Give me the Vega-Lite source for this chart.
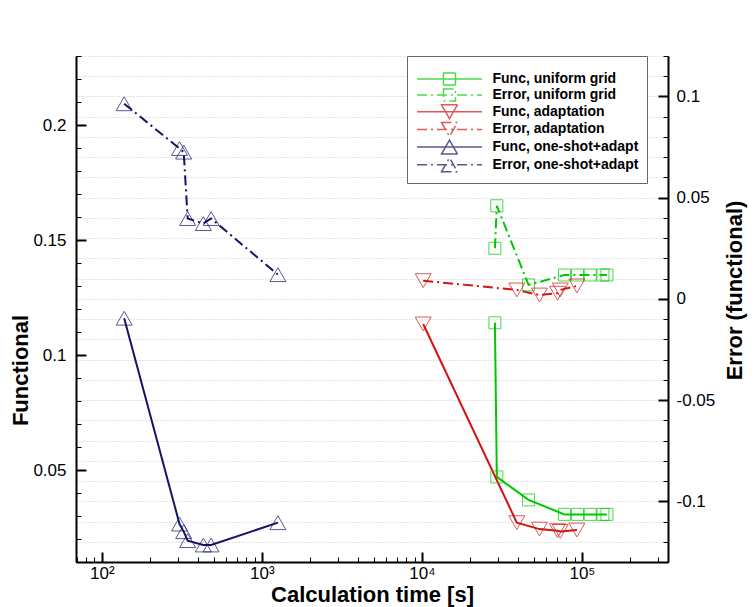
{
  "$schema": "https://vega.github.io/schema/vega-lite/v6.json",
  "width": 592,
  "height": 506,
  "autosize": {"type": "none"},
  "padding": {"left": 76, "top": 56, "right": 87, "bottom": 45},
  "background": "white",
  "config": {
    "view": {"stroke": null},
    "font": "Liberation Sans",
    "axis": {
      "domainColor": "black", "domainWidth": 2, "tickColor": "black",
      "labelColor": "black", "titleColor": "black",
      "labelFont": "Liberation Sans", "labelFontSize": 17,
      "titleFont": "Liberation Sans", "titleFontSize": 22, "titleFontWeight": "bold",
      "grid": false, "labelOverlap": false, "labelFlush": false
    },
    "legend": {
      "orient": "none", "legendX": 331, "legendY": 0,
      "strokeColor": "#666666", "fillColor": "white", "padding": 8,
      "symbolSize": 100, "symbolOffset": 27.5, "labelOffset": 36,
      "symbolStrokeWidth": 1.5,
      "labelFont": "Liberation Sans", "labelFontWeight": "bold", "labelFontSize": 14, "labelColor": "black",
      "labelLimit": 400, "rowPadding": -2.3,
      "titleFontSize": 4, "titlePadding": 4
    }
  },
  "data": {"values": [
    {"series": "Func, uniform grid", "kind": "Func", "t": 28600, "v": 0.114},
    {"series": "Func, uniform grid", "kind": "Func", "t": 29400, "v": 0.047},
    {"series": "Func, uniform grid", "kind": "Func", "t": 46400, "v": 0.037},
    {"series": "Func, uniform grid", "kind": "Func", "t": 77800, "v": 0.0307},
    {"series": "Func, uniform grid", "kind": "Func", "t": 93900, "v": 0.0307},
    {"series": "Func, uniform grid", "kind": "Func", "t": 112700, "v": 0.0307},
    {"series": "Func, uniform grid", "kind": "Func", "t": 135200, "v": 0.0307},
    {"series": "Func, uniform grid", "kind": "Func", "t": 143300, "v": 0.0307},
    {"series": "Error, uniform grid", "kind": "Error", "t": 28600, "v": 0.025},
    {"series": "Error, uniform grid", "kind": "Error", "t": 29400, "v": 0.046},
    {"series": "Error, uniform grid", "kind": "Error", "t": 46400, "v": 0.0069},
    {"series": "Error, uniform grid", "kind": "Error", "t": 77800, "v": 0.0118},
    {"series": "Error, uniform grid", "kind": "Error", "t": 93900, "v": 0.0118},
    {"series": "Error, uniform grid", "kind": "Error", "t": 112700, "v": 0.0118},
    {"series": "Error, uniform grid", "kind": "Error", "t": 135200, "v": 0.0118},
    {"series": "Error, uniform grid", "kind": "Error", "t": 143300, "v": 0.0118},
    {"series": "Func, adaptation", "kind": "Func", "t": 10190, "v": 0.1135},
    {"series": "Func, adaptation", "kind": "Func", "t": 39200, "v": 0.0271},
    {"series": "Func, adaptation", "kind": "Func", "t": 54300, "v": 0.0243},
    {"series": "Func, adaptation", "kind": "Func", "t": 70400, "v": 0.0236},
    {"series": "Func, adaptation", "kind": "Func", "t": 73200, "v": 0.0233},
    {"series": "Func, adaptation", "kind": "Func", "t": 93100, "v": 0.0239},
    {"series": "Error, adaptation", "kind": "Error", "t": 10190, "v": 0.009},
    {"series": "Error, adaptation", "kind": "Error", "t": 39200, "v": 0.0044},
    {"series": "Error, adaptation", "kind": "Error", "t": 54300, "v": 0.0019},
    {"series": "Error, adaptation", "kind": "Error", "t": 70400, "v": 0.0028},
    {"series": "Error, adaptation", "kind": "Error", "t": 73200, "v": 0.0044},
    {"series": "Error, adaptation", "kind": "Error", "t": 93100, "v": 0.0064},
    {"series": "Func, one-shot+adapt", "kind": "Func", "t": 138, "v": 0.116},
    {"series": "Func, one-shot+adapt", "kind": "Func", "t": 306, "v": 0.0265},
    {"series": "Func, one-shot+adapt", "kind": "Func", "t": 325, "v": 0.0232},
    {"series": "Func, one-shot+adapt", "kind": "Func", "t": 344, "v": 0.0193},
    {"series": "Func, one-shot+adapt", "kind": "Func", "t": 431, "v": 0.0174},
    {"series": "Func, one-shot+adapt", "kind": "Func", "t": 482, "v": 0.0174},
    {"series": "Func, one-shot+adapt", "kind": "Func", "t": 1260, "v": 0.0271},
    {"series": "Error, one-shot+adapt", "kind": "Error", "t": 138, "v": 0.0964},
    {"series": "Error, one-shot+adapt", "kind": "Error", "t": 306, "v": 0.0743},
    {"series": "Error, one-shot+adapt", "kind": "Error", "t": 325, "v": 0.0725},
    {"series": "Error, one-shot+adapt", "kind": "Error", "t": 344, "v": 0.0397},
    {"series": "Error, one-shot+adapt", "kind": "Error", "t": 431, "v": 0.0372},
    {"series": "Error, one-shot+adapt", "kind": "Error", "t": 482, "v": 0.0397},
    {"series": "Error, one-shot+adapt", "kind": "Error", "t": 1260, "v": 0.012}
  ]},
  "encoding": {
    "x": {
      "field": "t", "type": "quantitative",
      "scale": {"type": "log", "domain": [69, 345000], "nice": false},
      "axis": {
        "title": "Calculation time [s]",
        "values": [70, 80, 90, 100, 200, 300, 400, 500, 600, 700, 800, 900, 1000, 2000, 3000, 4000, 5000, 6000, 7000, 8000, 9000, 10000, 20000, 30000, 40000, 50000, 60000, 70000, 80000, 90000, 100000, 200000, 300000],
        "labelExpr": "datum.value == 100 ? '10²' : datum.value == 1000 ? '10³' : datum.value == 10000 ? '10⁴' : datum.value == 100000 ? '10⁵' : ''",
        "tickSize": {"condition": {"test": "datum.value == 100 || datum.value == 1000 || datum.value == 10000 || datum.value == 100000", "value": -10}, "value": -5},
        "tickWidth": {"condition": {"test": "datum.value == 100 || datum.value == 1000 || datum.value == 10000 || datum.value == 100000", "value": 2}, "value": 1},
        "labelPadding": 13,
        "titleY": 22,
        "titleBaseline": "top"
      }
    }
  },
  "layer": [
    {
      "transform": [{"filter": "datum.kind == 'Func'"}],
      "encoding": {
        "y": {
          "field": "v", "type": "quantitative",
          "scale": {"domain": [0.01, 0.23], "nice": false, "zero": false},
          "axis": {
            "orient": "left", "title": "Functional",
            "values": [0.01, 0.02, 0.03, 0.04, 0.05, 0.06, 0.07, 0.08, 0.09, 0.1, 0.11, 0.12, 0.13, 0.14, 0.15, 0.16, 0.17, 0.18, 0.19, 0.2, 0.21, 0.22, 0.23],
            "labelExpr": "abs(datum.value*20 - round(datum.value*20)) < 1e-6 ? toString(round(datum.value*100)/100) : ''",
            "tickSize": {"condition": {"test": "abs(datum.value*20 - round(datum.value*20)) < 1e-6", "value": -10}, "value": -5},
            "tickWidth": {"condition": {"test": "abs(datum.value*20 - round(datum.value*20)) < 1e-6", "value": 2}, "value": 1},
            "labelPadding": 20,
            "titlePadding": 0,
            "titleY": 314
          }
        },
        "color": {
          "field": "series", "type": "nominal", "legend": null,
          "scale": {
            "domain": ["Func, uniform grid", "Error, uniform grid", "Func, adaptation", "Error, adaptation", "Func, one-shot+adapt", "Error, one-shot+adapt"],
            "range": ["#00c800", "#00c800", "#d21414", "#d21414", "#141464", "#141464"]
          }
        }
      },
      "layer": [
        {"mark": {"type": "line", "strokeWidth": 2}},
        {
          "mark": {"type": "point", "filled": false, "strokeWidth": 1, "opacity": 0.7},
          "encoding": {
            "shape": {
              "field": "series", "type": "nominal", "legend": null,
              "scale": {
                "domain": ["Func, uniform grid", "Error, uniform grid", "Func, adaptation", "Error, adaptation", "Func, one-shot+adapt", "Error, one-shot+adapt"],
                "range": ["square", "square", "triangle-down", "triangle-down", "triangle-up", "triangle-up"]
              }
            },
            "size": {"condition": {"test": "indexof(datum.series, 'uniform') >= 0", "value": 144}, "value": 256}
          }
        }
      ]
    },
    {
      "transform": [{"filter": "datum.kind == 'Error'"}],
      "encoding": {
        "y": {
          "field": "v", "type": "quantitative",
          "scale": {"domain": [-0.13, 0.12], "nice": false, "zero": false},
          "axis": {
            "orient": "right", "title": "Error (functional)",
            "titleAngle": -90, "titleBaseline": "top",
            "values": [-0.13, -0.12, -0.11, -0.1, -0.09, -0.08, -0.07, -0.06, -0.05, -0.04, -0.03, -0.02, -0.01, 0, 0.01, 0.02, 0.03, 0.04, 0.05, 0.06, 0.07, 0.08, 0.09, 0.1, 0.11, 0.12],
            "labelExpr": "abs(datum.value*20 - round(datum.value*20)) < 1e-6 ? toString(round(datum.value*100)/100) : ''",
            "tickSize": {"condition": {"test": "abs(datum.value*20 - round(datum.value*20)) < 1e-6", "value": -10}, "value": -5},
            "tickWidth": {"condition": {"test": "abs(datum.value*20 - round(datum.value*20)) < 1e-6", "value": 2}, "value": 1},
            "labelPadding": 18,
            "titlePadding": 10,
            "titleY": 234,
            "grid": true, "gridColor": "#c8c8c8", "gridDash": [1, 2], "gridWidth": 1
          }
        },
        "color": {
          "field": "series", "type": "nominal", "legend": null,
          "scale": {
            "domain": ["Func, uniform grid", "Error, uniform grid", "Func, adaptation", "Error, adaptation", "Func, one-shot+adapt", "Error, one-shot+adapt"],
            "range": ["#00c800", "#00c800", "#d21414", "#d21414", "#141464", "#141464"]
          }
        }
      },
      "layer": [
        {"mark": {"type": "line", "strokeWidth": 2, "strokeDash": [10, 4, 2, 4]}},
        {
          "mark": {"type": "point", "filled": false, "strokeWidth": 1, "opacity": 0.7},
          "encoding": {
            "shape": {
              "field": "series", "type": "nominal", "legend": null,
              "scale": {
                "domain": ["Func, uniform grid", "Error, uniform grid", "Func, adaptation", "Error, adaptation", "Func, one-shot+adapt", "Error, one-shot+adapt"],
                "range": ["square", "square", "triangle-down", "triangle-down", "triangle-up", "triangle-up"]
              }
            },
            "size": {"condition": {"test": "indexof(datum.series, 'uniform') >= 0", "value": 144}, "value": 256}
          }
        }
      ]
    },
    {
      "transform": [{"filter": "datum.t < 0"}],
      "mark": {"type": "point", "filled": false, "size": 100, "strokeWidth": 1.5},
      "encoding": {
        "color": {
          "field": "series", "type": "nominal", "legend": {"title": " "},
          "scale": {
            "domain": ["Func, uniform grid", "Error, uniform grid", "Func, adaptation", "Error, adaptation", "Func, one-shot+adapt", "Error, one-shot+adapt"],
            "range": ["#00c800", "#00c800", "#d21414", "#d21414", "#141464", "#141464"]
          }
        },
        "shape": {
          "field": "series", "type": "nominal", "legend": {"title": " "},
          "scale": {
            "domain": ["Func, uniform grid", "Error, uniform grid", "Func, adaptation", "Error, adaptation", "Func, one-shot+adapt", "Error, one-shot+adapt"],
            "range": ["M-6.5,0H6.5M-1.2,-1.2H1.2V1.2H-1.2Z", "M-6.5,0H6.5M-1.2,-1.2H1.2V1.2H-1.2Z", "M-6.5,0H6.5M-1.6,-1.4H1.6L0,1.4Z", "M-6.5,0H6.5M-1.6,-1.4H1.6L0,1.4Z", "M-6.5,0H6.5M-1.6,1.4H1.6L0,-1.4Z", "M-6.5,0H6.5M-1.6,1.4H1.6L0,-1.4Z"]
          }
        },
        "strokeDash": {
          "field": "series", "type": "nominal", "legend": {"title": " "},
          "scale": {
            "domain": ["Func, uniform grid", "Error, uniform grid", "Func, adaptation", "Error, adaptation", "Func, one-shot+adapt", "Error, one-shot+adapt"],
            "range": [[1, 0], [10, 4, 2, 4], [1, 0], [10, 4, 2, 4], [1, 0], [10, 4, 2, 4]]
          }
        }
      }
    }
  ],
  "resolve": {"scale": {"y": "independent", "shape": "independent", "color": "independent", "strokeDash": "independent"}}
}
